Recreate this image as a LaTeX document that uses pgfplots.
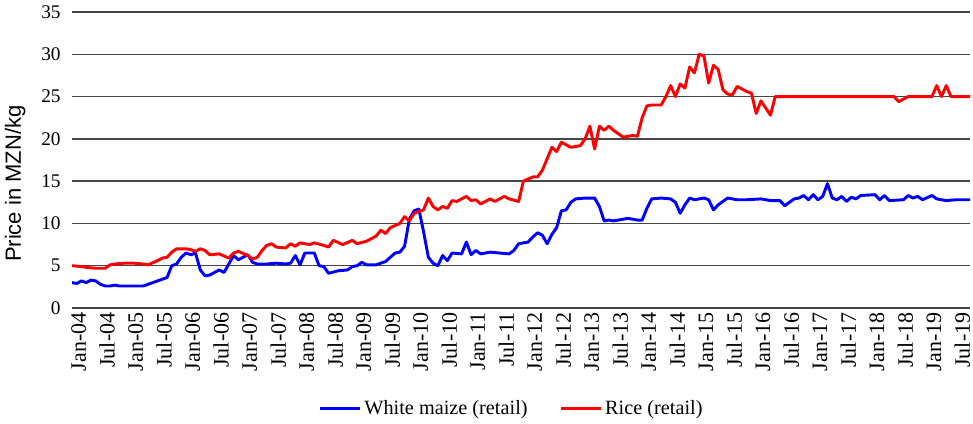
\documentclass[border=0pt]{standalone}
\usepackage{fontspec}
\setmainfont{Liberation Serif}
\newfontfamily\arialfont{Liberation Sans}
\usepackage{pgfplots}
\pgfplotsset{compat=1.18}
\definecolor{maizeblue}{RGB}{0,0,255}
\definecolor{ricered}{RGB}{255,0,0}
\definecolor{gridgray}{RGB}{70,70,70}

\begin{document}
\begin{tikzpicture}
\begin{axis}[
  name=ax,
  scale only axis, width=673.5pt, height=222pt,
  xmin=0, xmax=189, ymin=0, ymax=35,
  ytick={0,5,...,35},
  xtick={0,6,...,186},
  xticklabels={Jan-04,Jul-04,Jan-05,Jul-05,Jan-06,Jul-06,Jan-07,Jul-07,Jan-08,Jul-08,
    Jan-09,Jul-09,Jan-10,Jul-10,Jan-11,Jul-11,Jan-12,Jul-12,Jan-13,Jul-13,Jan-14,Jul-14,
    Jan-15,Jul-15,Jan-16,Jul-16,Jan-17,Jul-17,Jan-18,Jul-18,Jan-19,Jul-19},
  /pgf/number format/assume math mode=true,
  axis line style={draw=none}, tick style={draw=none},
  ymajorgrids, major grid style={gridgray, line width=1.1pt},
  yticklabel style={font=\fontsize{14.5}{16}\selectfont, xshift=-5pt},
  xticklabel style={font=\fontsize{16.5}{18}\selectfont, rotate=90, anchor=east,
    inner ysep=0.5pt, inner xsep=3.3pt, yshift=-5pt, xshift=0pt},
  ylabel={\arialfont Price in MZN/kg},
  ylabel shift=5pt,
  ylabel style={font=\fontsize{16.5}{18}\selectfont, at={(ticklabel cs:0.42)}},
  legend columns=2,
  legend style={at={(0.49,-0.338)}, anchor=center, draw=none, fill=none,
    font=\fontsize{15.2}{17}\selectfont, /tikz/every even column/.append style={column sep=22pt}},
  legend image code/.code={\draw[#1, line width=2.2pt] (0pt,0pt) -- (30pt,0pt);},
]
\addplot[maizeblue, line width=2.2pt, line join=round] coordinates {
(0,3.0)(1,2.9)(2,3.2)(3,3.0)(4,3.3)(5,3.2)(6,2.8)(7,2.6)(8,2.6)(9,2.7)(10,2.6)
(12,2.6)(15,2.6)(16,2.8)(18,3.2)(20,3.6)(21,5.0)(22,5.2)(23,6.0)(24,6.5)(25,6.3)
(26,6.5)(27,4.5)(28,3.8)(29,3.9)(30,4.2)(31,4.5)(32,4.2)(33,5.2)(34,6.2)(35,5.7)
(36,6.0)(37,6.3)(38,5.4)(39,5.2)(41,5.2)(43,5.3)(45,5.2)(46,5.3)(47,6.2)(48,5.1)
(49,6.5)(51,6.5)(52,5.0)(53,4.9)(54,4.1)(56,4.4)(58,4.5)(59,4.9)(60,5.0)(61,5.4)
(62,5.1)(64,5.1)(66,5.5)(67,6.0)(68,6.5)(69,6.6)(70,7.3)(71,10.5)(72,11.5)(73,11.7)
(74,9.0)(75,6.0)(76,5.3)(77,5.0)(78,6.2)(79,5.6)(80,6.5)(82,6.4)(83,7.8)(84,6.3)
(85,6.8)(86,6.4)(88,6.6)(90,6.5)(92,6.4)(93,6.8)(94,7.6)(96,7.8)(97,8.4)(98,8.9)
(99,8.6)(100,7.6)(101,8.7)(102,9.5)(103,11.5)(104,11.6)(105,12.5)(106,12.9)(108,13.0)
(110,13.0)(111,12.0)(112,10.3)(113,10.4)(114,10.3)(115,10.4)(117,10.6)(119,10.4)
(120,10.4)(121,11.8)(122,12.9)(124,13.0)(126,12.9)(127,12.5)(128,11.2)(129,12.2)
(130,13.0)(131,12.8)(133,13.0)(134,12.8)(135,11.6)(136,12.2)(138,13.0)(140,12.8)
(142,12.8)(145,12.9)(147,12.7)(149,12.7)(150,12.1)(152,12.9)(153,13.0)(154,13.3)
(155,12.8)(156,13.4)(157,12.8)(158,13.2)(159,14.7)(160,13.0)(161,12.8)(162,13.2)
(163,12.6)(164,13.1)(165,12.9)(166,13.3)(169,13.4)(170,12.8)(171,13.3)(172,12.7)
(175,12.8)(176,13.3)(177,13.0)(178,13.2)(179,12.8)(181,13.3)(182,12.9)(184,12.7)
(186,12.8)(189,12.8)
};
\addlegendentry{White maize (retail)}
\addplot[ricered, line width=2.2pt, line join=round] coordinates {
(0,5.0)(2,4.9)(3,4.8)(5,4.7)(7,4.7)(8,5.1)(9,5.2)(11,5.3)(13,5.3)(15,5.2)(16,5.1)
(18,5.6)(19,5.9)(20,6.0)(21,6.6)(22,7.0)(24,7.0)(25,6.9)(26,6.7)(27,7.0)(28,6.8)
(29,6.3)(31,6.4)(33,5.9)(34,6.5)(35,6.7)(37,6.2)(38,5.8)(39,6.0)(40,6.8)(41,7.4)
(42,7.6)(43,7.2)(45,7.1)(46,7.6)(47,7.3)(48,7.7)(50,7.5)(51,7.7)(53,7.4)(54,7.2)
(55,8.0)(57,7.5)(59,8.0)(60,7.6)(62,7.9)(64,8.5)(65,9.2)(66,8.8)(67,9.5)(69,10.0)
(70,10.8)(71,10.3)(72,11.2)(74,11.6)(75,13.0)(76,12.0)(77,11.6)(78,12.0)(79,11.8)
(80,12.7)(81,12.6)(83,13.2)(84,12.7)(85,12.8)(86,12.3)(88,12.9)(89,12.6)(91,13.2)
(92,12.9)(94,12.6)(95,15.0)(97,15.5)(98,15.5)(99,16.3)(101,19.0)(102,18.5)(103,19.6)
(105,19.0)(107,19.2)(108,20.0)(109,21.5)(110,18.8)(111,21.5)(112,21.0)(113,21.5)
(114,21.0)(116,20.2)(118,20.4)(119,20.3)(120,22.5)(121,23.9)(122,24.0)(124,24.0)
(125,25.0)(126,26.3)(127,25.0)(128,26.5)(129,26.0)(130,28.5)(131,27.8)(132,30.0)
(133,29.8)(134,26.6)(135,28.7)(136,28.2)(137,25.8)(138,25.3)(139,25.2)(140,26.2)
(142,25.6)(143,25.4)(144,23.0)(145,24.5)(147,22.8)(148,25.0)(173,25.0)(174,24.4)
(176,25.0)(181,25.0)(182,26.3)(183,25.0)(184,26.3)(185,25.0)(189,25.0)
};
\addlegendentry{Rice (retail)}
\end{axis}
\pgfresetboundingbox
\path ([xshift=-54pt,yshift=-87pt]ax.south west) rectangle ([xshift=2.25pt,yshift=9pt]ax.north east);
\end{tikzpicture}
\end{document}
